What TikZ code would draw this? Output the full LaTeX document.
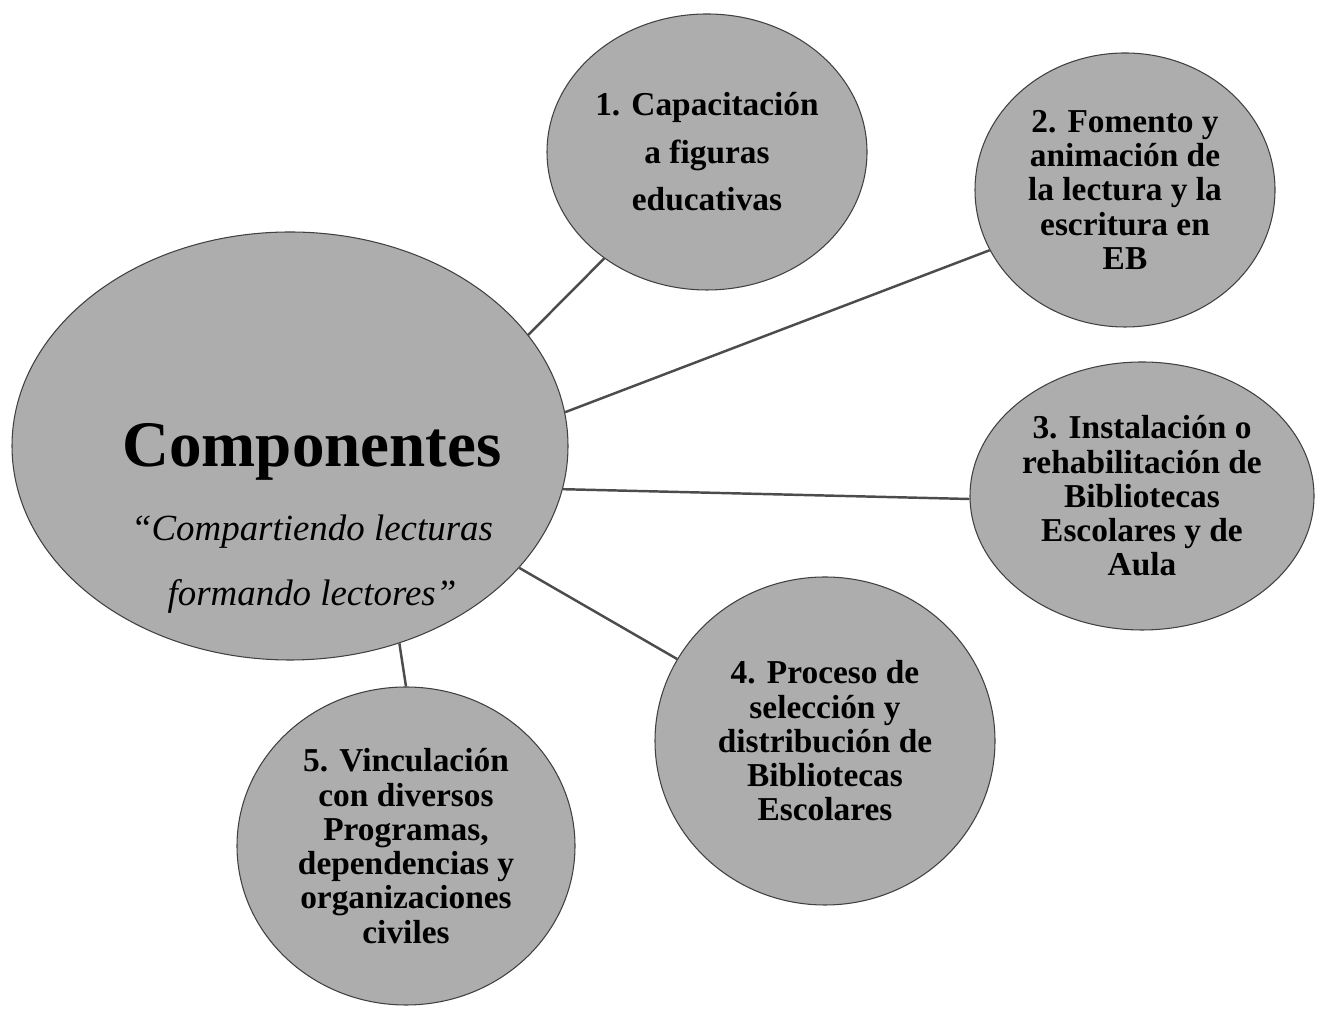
\documentclass[tikz,border=0pt]{standalone}
\usepackage{fontspec}
\setmainfont{Liberation Serif}
\usetikzlibrary{shapes.geometric, positioning}

\begin{document}
\begin{tikzpicture}[
		comp/.style={ellipse, draw=black!75, line width=0.6pt, fill=black!32, inner sep=0pt,
			font=\fontsize{19}{19.5}\selectfont\bfseries},
		link/.style={draw=black!70, line width=1.4pt},
		every text node part/.style={align=center}
	]
	\useasboundingbox (0,0) rectangle (26.38,20.18);

	\node[comp, minimum width=11.12cm, minimum height=8.56cm] (main) at (5.8,11.26) {};
	\node[anchor=base, inner sep=0pt, font=\fontsize{37}{40}\selectfont\bfseries] (title) at (6.24,10.84) {Componentes};
	\node[inner sep=0pt, font=\fontsize{21}{37}\selectfont\itshape, below=0.66cm of title] (motto) {“Compartiendo lecturas\\formando lectores”};

	\node[comp, minimum width=6.4cm, minimum height=5.52cm, font=\fontsize{19}{27}\selectfont\bfseries] (c1) at (14.14,17.14) {1. Capacitación\\a figuras\\educativas};
	\node[comp, minimum width=6cm, minimum height=5.48cm] (c2) at (22.5,16.38) {2. Fomento y\\animación de\\la lectura y la\\escritura en\\EB};
	\node[comp, minimum width=6.88cm, minimum height=5.36cm] (c3) at (22.84,10.26) {3. Instalación o\\rehabilitación de\\Bibliotecas\\Escolares y de\\Aula};
	\node[comp, minimum width=6.8cm, minimum height=6.56cm] (c4) at (16.5,5.36) {4. Proceso de\\selección y\\distribución de\\Bibliotecas\\Escolares};
	\node[comp, minimum width=6.76cm, minimum height=6.36cm] (c5) at (8.12,3.26) {5. Vinculación\\con diversos\\Programas,\\dependencias y\\organizaciones\\civiles};

	\draw[link] (main.25) -- (c1.226);
	\draw[link] (main.7) -- (c2.204);
	\draw[link] (main.-9) -- (c3.181);
	\draw[link] (main.-28) -- (c4.151);
	\draw[link] (main.-61) -- (c5.north);
\end{tikzpicture}
\end{document}
